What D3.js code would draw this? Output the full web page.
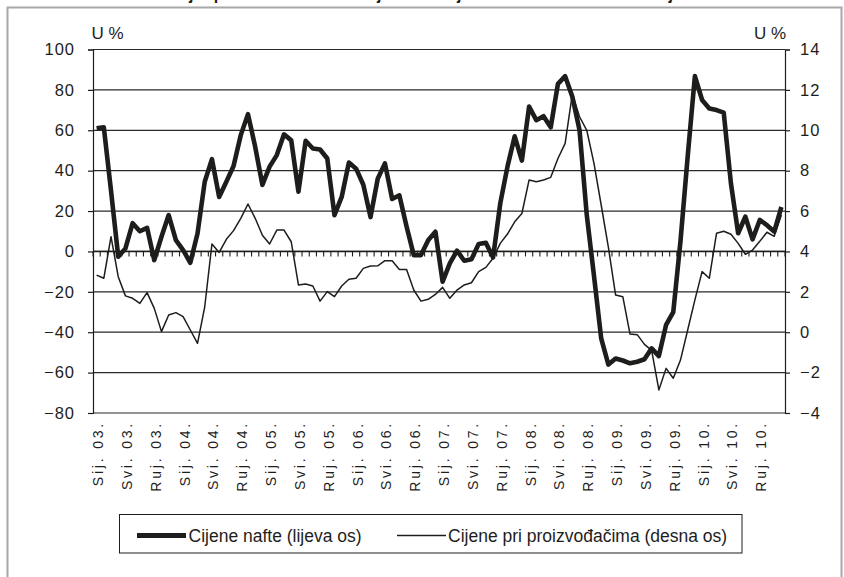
<!DOCTYPE html>
<html>
<head>
<meta charset="utf-8">
<script src="https://cdn.jsdelivr.net/npm/d3@7"></script>
<style>
body { margin: 0; background: #fff; }
svg { font-family: "Liberation Sans", Arial, sans-serif; }
</style>
</head>
<body>
<svg width="844" height="577"></svg>
<script>
// categories: monthly, Jan 2003 - Dec 2010
var monthNames = ["Sij", "Velj", "Ožu", "Tra", "Svi", "Lip", "Srp", "Kol", "Ruj", "Lis", "Stu", "Pro"];
var years = ["03", "04", "05", "06", "07", "08", "09", "10"];
var months = [];
years.forEach(function (y) {
  monthNames.forEach(function (m) { months.push(m + ". " + y + "."); });
});

// Cijene nafte, % (left axis)
var oil = [
  61, 61.5, 30, -2.6, 1.5, 14, 10, 11.7, -4.3, 7.3, 18, 5.6,
  0.7, -5.6, 8.9, 34.5, 45.7, 27, 34.5, 42.3, 57.6, 68, 51.8, 33,
  42, 47.7, 58, 55, 29.6, 54.8, 51, 50.5, 46, 18, 27, 44,
  41, 33, 17, 36, 43.6, 26, 27.8, 12.3, -1.8, -1.8, 5.6, 9.8,
  -15, -5.9, 0.4, -4.6, -3.9, 3.7, 4.3, -3, 23.8, 42, 57, 45,
  71.7, 65, 67, 61.5, 83, 86.8, 76.6, 60, 18, -12, -43, -56,
  -53, -54, -55.4, -54.6, -53.4, -48, -51.8, -36.4, -30, 5, 47, 86.8,
  75, 70.8, 70, 68.7, 33.7, 9, 17.2, 6, 15.6, 13, 9.8, 22
];

// Cijene pri proizvođačima, % (right axis)
var ppi = [
  2.83, 2.67, 4.73, 2.75, 1.8, 1.68, 1.43, 1.96, 1.18, 0.03, 0.85, 0.97,
  0.77, 0.11, -0.55, 1.26, 4.37, 3.95, 4.6, 5.03, 5.64, 6.35, 5.64, 4.8,
  4.37, 5.06, 5.06, 4.48, 2.34, 2.39, 2.29, 1.54, 2.01, 1.76, 2.29, 2.62,
  2.67, 3.16, 3.28, 3.29, 3.54, 3.54, 3.11, 3.1, 2.09, 1.54, 1.63, 1.87,
  2.22, 1.68, 2.09, 2.34, 2.45, 3.0, 3.21, 3.66, 4.4, 4.86, 5.47, 5.88,
  7.54, 7.45, 7.54, 7.67, 8.6, 9.35, 11.8, 10.67, 10.0, 8.36, 6.3, 4.2,
  1.84, 1.76, -0.09, -0.12, -0.6, -0.9, -2.86, -1.79, -2.28, -1.38, 0.11, 1.6,
  3.0, 2.67, 4.9, 5.0, 4.85, 4.4, 3.86, 4.07, 4.5, 4.95, 4.75, 5.8
];

var leftTicks = [-80, -60, -40, -20, 0, 20, 40, 60, 80, 100];
var rightTicks = [-4, -2, 0, 2, 4, 6, 8, 10, 12, 14];
var seriesNames = ["Cijene nafte (lijeva os)", "Cijene pri proizvođačima (desna os)"];

var ink = "#1d1d1b";
var svg = d3.select("svg");

// frame + title (cut off at the top, as in the source)
svg.append("path")
  .attr("d", "M7.5,577V7.5H841.5V577")
  .attr("fill", "none").attr("stroke", "#a8a8a8").attr("stroke-width", 2);
svg.append("text")
  .attr("x", 124).attr("y", -0.5)
  .attr("textLength", 549).attr("lengthAdjust", "spacing")
  .style("font-weight", "bold").style("font-size", "16px").attr("fill", ink)
  .text("Kretanje proizvođačkih cijena i cijena nafte u Hrvatskoj");

var x = d3.scaleBand().domain(d3.range(months.length)).range([93, 785]);
var xb = d3.scaleLinear().domain([0, months.length]).range([93, 785]);
var yL = d3.scaleLinear().domain([-80, 100]).range([413, 49.5]);
var yR = d3.scaleLinear().domain([-4, 14]).range([413, 49.5]);
var cx = function (i) { return x(i) + x.bandwidth() / 2; };

// gridlines
svg.append("g").selectAll("line").data(leftTicks).enter().append("line")
  .attr("x1", 93).attr("x2", 785)
  .attr("y1", function (d) { return yL(d); }).attr("y2", function (d) { return yL(d); })
  .attr("stroke", "#2a2a2a").attr("stroke-width", 1.2);

// left axis
var gl = svg.append("g").attr("transform", "translate(93,0)")
  .call(d3.axisLeft(yL).tickValues(leftTicks).tickSize(5).tickPadding(13));
// right axis
var gr = svg.append("g").attr("transform", "translate(785,0)")
  .call(d3.axisRight(yR).tickValues(rightTicks).tickSize(5).tickPadding(10));
[gl, gr].forEach(function (g) {
  g.select(".domain").attr("stroke", ink).attr("stroke-width", 1.2);
  g.selectAll(".tick line").attr("stroke", ink).attr("stroke-width", 1.2);
  g.selectAll(".tick text").attr("fill", ink)
    .style("font-size", "16.5px").style("letter-spacing", "1px");
});

// x axis at zero with a tick per month
var y0 = yL(0);
svg.append("line").attr("x1", 93).attr("x2", 785).attr("y1", y0).attr("y2", y0)
  .attr("stroke", ink).attr("stroke-width", 1.4);
svg.append("g").selectAll("line").data(d3.range(months.length + 1)).enter().append("line")
  .attr("x1", function (k) { return xb(k); }).attr("x2", function (k) { return xb(k); })
  .attr("y1", y0).attr("y2", y0 + 5)
  .attr("stroke", ink).attr("stroke-width", 1.1);

svg.append("g").selectAll("text")
  .data(d3.range(0, months.length, 4)).enter().append("text")
  .attr("transform", function (i) { return "translate(" + (cx(i) + 1.5) + ",421)rotate(-90)"; })
  .attr("dy", "0.35em").attr("text-anchor", "end")
  .style("font-size", "14px").style("letter-spacing", "2.8px").attr("fill", ink)
  .text(function (i) { return months[i]; });

// axis units
svg.append("text").attr("x", 91.5).attr("y", 39).style("font-size", "17px").attr("fill", ink).text("U %");
svg.append("text").attr("x", 786).attr("y", 39).attr("text-anchor", "end").style("font-size", "17px").attr("fill", ink).text("U %");

// series
var lineOil = d3.line().x(function (d, i) { return cx(i); }).y(function (d) { return yL(d); });
var linePpi = d3.line().x(function (d, i) { return cx(i); }).y(function (d) { return yR(d); });
svg.append("path").datum(oil).attr("d", lineOil)
  .attr("fill", "none").attr("stroke", ink).attr("stroke-width", 4.6).attr("stroke-linejoin", "round");
svg.append("path").datum(ppi).attr("d", linePpi)
  .attr("fill", "none").attr("stroke", ink).attr("stroke-width", 1.5).attr("stroke-linejoin", "round");

// legend
var lg = svg.append("g");
lg.append("rect").attr("x", 119.5).attr("y", 514.5).attr("width", 622.5).attr("height", 38.5)
  .attr("fill", "#fff").attr("stroke", ink).attr("stroke-width", 1);
var items = [
  { x: 137, w: 5, tx: 188.5 },
  { x: 397, w: 1.5, tx: 448 }
];
items.forEach(function (it, k) {
  lg.append("line").attr("x1", it.x).attr("x2", it.x + 49).attr("y1", 535.5).attr("y2", 535.5)
    .attr("stroke", ink).attr("stroke-width", it.w);
  lg.append("text").attr("x", it.tx).attr("y", 541.5)
    .style("font-size", "17.5px").attr("fill", ink).text(seriesNames[k]);
});
</script>
</body>
</html>
